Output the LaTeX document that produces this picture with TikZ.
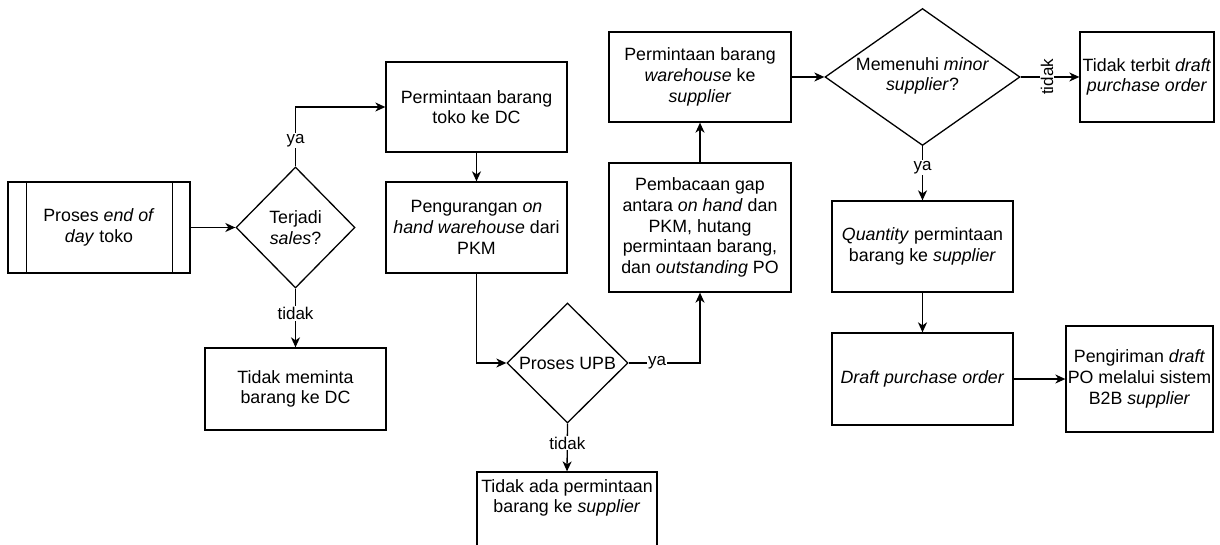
\documentclass[tikz,border=0pt]{standalone}
\usepackage{fontspec}
\setmainfont{Liberation Sans}
\usetikzlibrary{shapes.geometric,arrows.meta,calc}
\begin{document}
\begin{tikzpicture}[x=1pt,y=-1pt,
  every node/.style={font=\fontsize{17.8}{20.7}\selectfont},
  box/.style={draw, line width=1.3pt, rectangle, align=center, inner sep=0pt},
  dia/.style={draw, line width=1.3pt, diamond, inner sep=0pt},
  txt/.style={align=center, inner sep=0pt},
  lbl/.style={fill=white, inner sep=1pt, font=\fontsize{17}{19}\selectfont},
  arr/.style={line width=1.3pt, -{Stealth[length=10pt,width=9pt,inset=3pt]}},
]
\fill[white] (0,0) rectangle (1220,545);
\useasboundingbox (0,0) rectangle (1220,545);

% nodes
\node[box, minimum width=182pt, minimum height=91pt] (proc) at (99,227.5) {Proses \textit{end of}\\\textit{day} toko};
\draw[line width=1.3pt] ($(proc.north west)+(19,0)$) -- ($(proc.south west)+(19,0)$);
\draw[line width=1.3pt] ($(proc.north east)+(-18,0)$) -- ($(proc.south east)+(-18,0)$);

\node[dia, minimum width=119pt, minimum height=121pt, label={[txt]center:Terjadi\\\textit{sales}?}] (d1) at (295.5,227.5) {};

\node[box, minimum width=181pt, minimum height=90pt] (b1) at (476.5,107) {Permintaan barang\\toko ke DC};
\node[box, minimum width=181pt, minimum height=91pt] (b2) at (476.5,227.5) {Pengurangan \textit{on}\\\textit{hand warehouse} dari\\PKM};
\node[box, minimum width=181pt, minimum height=82pt] (m1) at (295.5,389) {Tidak meminta\\barang ke DC};

\node[dia, minimum width=121pt, minimum height=120pt, label={[txt]center:Proses UPB}] (d2) at (567.5,363) {};
\node[box, minimum width=180pt, minimum height=90pt, label={[txt,yshift=19pt]center:Tidak ada permintaan\\barang ke \textit{supplier}}] (b7) at (567,517) {};

\node[box, minimum width=182pt, minimum height=129pt] (b4) at (700,227.5) {Pembacaan gap\\antara \textit{on hand} dan\\PKM, hutang\\permintaan barang,\\dan \textit{outstanding} PO};
\node[box, minimum width=182pt, minimum height=90pt] (b3) at (700,77) {Permintaan barang\\\textit{warehouse} ke\\\textit{supplier}};

\node[dia, minimum width=195pt, minimum height=137pt, label={[txt,yshift=1pt]center:Memenuhi \textit{minor}\\\textit{supplier}?}] (d3) at (922.5,77) {};
\node[box, minimum width=134pt, minimum height=90pt] (b5) at (1147,77) {Tidak terbit \textit{draft}\\\textit{purchase order}};

\node[box, minimum width=181pt, minimum height=91pt] (b6) at (922.5,246.5) {\textit{Quantity} permintaan\\barang ke \textit{supplier}};
\node[box, minimum width=181pt, minimum height=92pt] (b8) at (922.5,379) {\textit{Draft purchase order}};
\node[box, minimum width=147pt, minimum height=106pt] (b9) at (1139.5,379) {Pengiriman \textit{draft}\\PO melalui sistem\\B2B \textit{supplier}};

% connectors
\draw[arr] (proc.east) -- (d1.west);
\draw[arr] (d1.north) |- node[lbl, pos=0.22] {ya} (b1.west);
\draw[arr] (d1.south) -- node[lbl, pos=0.42] {tidak} (m1.north);
\draw[arr] (b1.south) -- (b2.north);
\draw[arr] (b2.south) |- (d2.west);
\draw[arr] (d2.east) -| node[lbl, pos=0.2] {ya} (b4.south);
\draw[arr] (d2.south) -- node[lbl, pos=0.41] {tidak} (b7.north);
\draw[arr] (b4.north) -- (b3.south);
\draw[arr] (b3.east) -- (d3.west);
\draw[arr] (d3.east) -- node[lbl, pos=0.45, rotate=90] {tidak} (b5.west);
\draw[arr] (d3.south) -- node[lbl, pos=0.39] {ya} (b6.north);
\draw[arr] (b6.south) -- (b8.north);
\draw[arr] (b8.east) -- (b9.west);
\end{tikzpicture}
\end{document}
